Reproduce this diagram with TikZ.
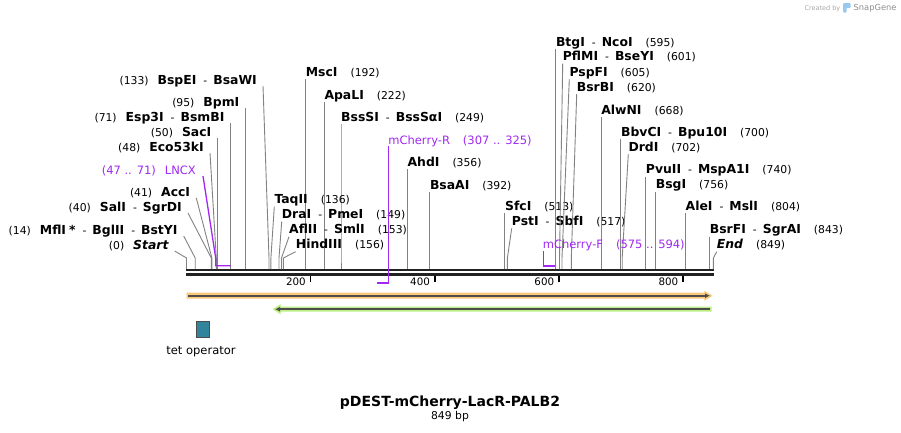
\documentclass[tikz,border=0pt]{standalone}
\usepackage{fontspec}
\setmainfont{DejaVu Sans}
\usepackage{xcolor}
\usetikzlibrary{positioning, arrows.meta}
\definecolor{primer}{RGB}{160,40,240}
\definecolor{cutgray}{RGB}{130,130,130}
\definecolor{rulerblack}{RGB}{34,34,34}
\definecolor{orangeband}{RGB}{251,200,122}
\definecolor{greenband}{RGB}{186,238,132}
\definecolor{featline}{RGB}{77,77,77}
\definecolor{tetblue}{RGB}{49,132,155}
\definecolor{sglogo}{RGB}{150,200,240}
\newcommand{\en}[1]{{\fontsize{12.4}{14}\selectfont\bfseries #1}}
\newcommand{\sepd}{\hspace{7pt}-\hspace{6pt}}
\newcommand{\gapl}{\hspace{9pt}}
\newcommand{\gapr}{\hspace{13pt}}
\tikzset{
  lab/.style={inner sep=0pt, font=\fontsize{10.8}{13}\selectfont},
  plab/.style={inner sep=0pt, text=primer, font=\fontsize{11.5}{13}\selectfont},
  cutline/.style={draw=cutgray, line width=0.9pt},
  primline/.style={draw=primer, line width=1.3pt},
  tickmark/.style={draw=black, line width=1.6pt},
  featarrow/.style={draw=featline, line width=1.6pt, -{Latex[length=5pt, width=5pt]}}
}
\begin{document}
\begin{tikzpicture}[x=1pt, y=-1pt]
\useasboundingbox (0,0) rectangle (901,432);
\draw [rulerblack, line width=2.4pt] (186,270.2) -- (714,270.2);
\draw [rulerblack, line width=3pt] (186,274.2) -- (714,274.2);
\foreach \t/\tx in {200/310.6, 400/434.7, 600/558.9, 800/683.0} {
  \draw [tickmark] (\tx,275.7) -- (\tx,282.3);
  \node [lab, font=\fontsize{10.3}{12}\selectfont, anchor=base east] (t\t) at (\tx-4.6,285.7) {\t};
}
\foreach \id/\lx/\ly/\sx/\txt in {
  133/257/84/269.0/{(133)\gapl\en{BspEI}\sepd\en{BsaWI}},
  95/239.5/106/245.5/{(95)\gapl\en{BpmI}},
  71/224.6/121/230.6/{(71)\gapl\en{Esp3I}\sepd\en{BsmBI}},
  50/211.5/136/217.5/{(50)\gapl\en{SacI}},
  48/204/151/216.3/{(48)\gapl\en{Eco53kI}},
  41/190.3/196/211.9/{(41)\gapl\en{AccI}},
  40/182/211/211.3/{(40)\gapl\en{SalI}\sepd\en{SgrDI}},
  14/177.7/234/195.2/{(14)\gapl\en{MflI\hspace{3pt}*}\sepd\en{BglII}\sepd\en{BstYI}},
  0/168.7/249/186.5/{(0)\gapl\en{\itshape Start}}} {
  \node [lab, anchor=base east] (l\id) at (\lx,\ly) {\txt};
  \coordinate (k\id) at (\sx,258);
  \coordinate (s\id) at (\sx,269);
  \draw [cutline] ([shift={(6,2)}]l\id.base east) -- (k\id) -- (s\id);
}
\foreach \id/\lx/\ly/\sx/\txt in {
  192/305.7/76/305.7/{\en{MscI}\gapr(192)},
  222/324.3/99.3/324.3/{\en{ApaLI}\gapr(222)},
  249/341.0/121/341.0/{\en{BssSI}\sepd\en{BssSαI}\gapr(249)},
  356/407.4/166/407.4/{\en{AhdI}\gapr(356)},
  392/429.8/189.3/429.8/{\en{BsaAI}\gapr(392)},
  136/274.3/203.7/270.9/{\en{TaqII}\gapr(136)},
  149/281.7/218.7/279.0/{\en{DraI}\sepd\en{PmeI}\gapr(149)},
  153/289/233.7/281.5/{\en{AflII}\sepd\en{SmlI}\gapr(153)},
  156/295.7/248.7/283.3/{\en{HindIII}\gapr(156)},
  513/504.9/210.3/504.9/{\en{SfcI}\gapr(513)},
  517/511.7/225.3/507.4/{\en{PstI}\sepd\en{SbfI}\gapr(517)},
  595/555.8/46/555.8/{\en{BtgI}\sepd\en{NcoI}\gapr(595)},
  601/562.7/60.7/559.5/{\en{PflMI}\sepd\en{BseYI}\gapr(601)},
  605/569.3/76.3/562.0/{\en{PspFI}\gapr(605)},
  620/576.7/91/571.3/{\en{BsrBI}\gapr(620)},
  668/601.1/114.3/601.1/{\en{AlwNI}\gapr(668)},
  700/620.9/136/620.9/{\en{BbvCI}\sepd\en{Bpu10I}\gapr(700)},
  702/628.3/151/622.2/{\en{DrdI}\gapr(702)},
  740/645.7/173.7/645.7/{\en{PvuII}\sepd\en{MspA1I}\gapr(740)},
  756/655.7/188.7/655.7/{\en{BsgI}\gapr(756)},
  804/685.5/210.3/685.5/{\en{AleI}\sepd\en{MslI}\gapr(804)},
  843/709.7/233.7/709.7/{\en{BsrFI}\sepd\en{SgrAI}\gapr(843)},
  849/716.7/248.7/713.4/{\en{\itshape End}\gapr(849)}} {
  \node [lab, anchor=base west] (r\id) at (\lx,\ly) {\txt};
  \coordinate (k\id) at (\sx,258);
  \coordinate (s\id) at (\sx,269);
  \draw [cutline] ([shift={(0,3)}]r\id.base west) -- (k\id) -- (s\id);
}
\node [plab, anchor=base east] (lncx) at (196,174) {(47 .. 71)\gapl LNCX};
\coordinate (lncxk) at (215.7,258);
\coordinate (lncxa) at (215.7,265.7);
\coordinate (lncxb) at (230.6,265.7);
\draw [primline] ([shift={(7,2)}]lncx.base east) -- (lncxk) -- (lncxa) -- (lncxb);
\node [plab, anchor=base west] (mchr) at (388.2,144.3) {mCherry-R\gapr(307 .. 325)};
\coordinate (mchra) at (388.2,283);
\coordinate (mchrb) at (377.0,283);
\draw [primline] ([shift={(0,2)}]mchr.base west) -- (mchra) -- (mchrb);
\node [plab, anchor=base west] (mchf) at (542.6,248.7) {mCherry-F\gapr(575 .. 594)};
\coordinate (mchfa) at (543.3,266);
\coordinate (mchfb) at (555.1,266);
\draw [primline] ([shift={(0.7,2.5)}]mchf.base west) -- (mchfa) -- (mchfb);
\fill [orangeband] (186.5,292.7) -- (704.3,292.7) -- (704.3,290.7) -- (712.5,295.7) -- (704.3,300.7) -- (704.3,298.7) -- (186.5,298.7) -- cycle;
\draw [featarrow] (188,295.7) -- (710,295.7);
\fill [greenband] (711.7,306.7) -- (280.5,306.7) -- (280.5,304.2) -- (272.7,309.2) -- (280.5,314.2) -- (280.5,311.7) -- (711.7,311.7) -- cycle;
\draw [featarrow] (710,309.2) -- (275,309.2);
\node [draw=featline, fill=tetblue, line width=0.8pt, inner sep=0pt, minimum width=12.6pt, minimum height=16pt] (tetop) at (203,329.7) {};
\node [lab, font=\fontsize{11.5}{13}\selectfont, anchor=base] (tetlab) at (201,354.3) {tet operator};
\node [lab, font=\fontsize{14}{16}\selectfont\bfseries, anchor=base] (title) at (450,406) {pDEST-mCherry-LacR-PALB2};
\node [lab, anchor=base] (bplen) at (450,419.5) {849 bp};
\node [lab, text=black!35, font=\fontsize{6.5}{8}\selectfont, anchor=base east] (cby) at (840.5,10.7) {Created by};
\fill [sglogo, rounded corners=1pt] (843,3) rectangle (850.5,8) (843,3) rectangle (846.5,12.5);
\node [lab, text=black!45, font=\fontsize{8.3}{10}\selectfont, anchor=base west] (sgname) at (853.5,10.7) {SnapGene};
\end{tikzpicture}
\end{document}
